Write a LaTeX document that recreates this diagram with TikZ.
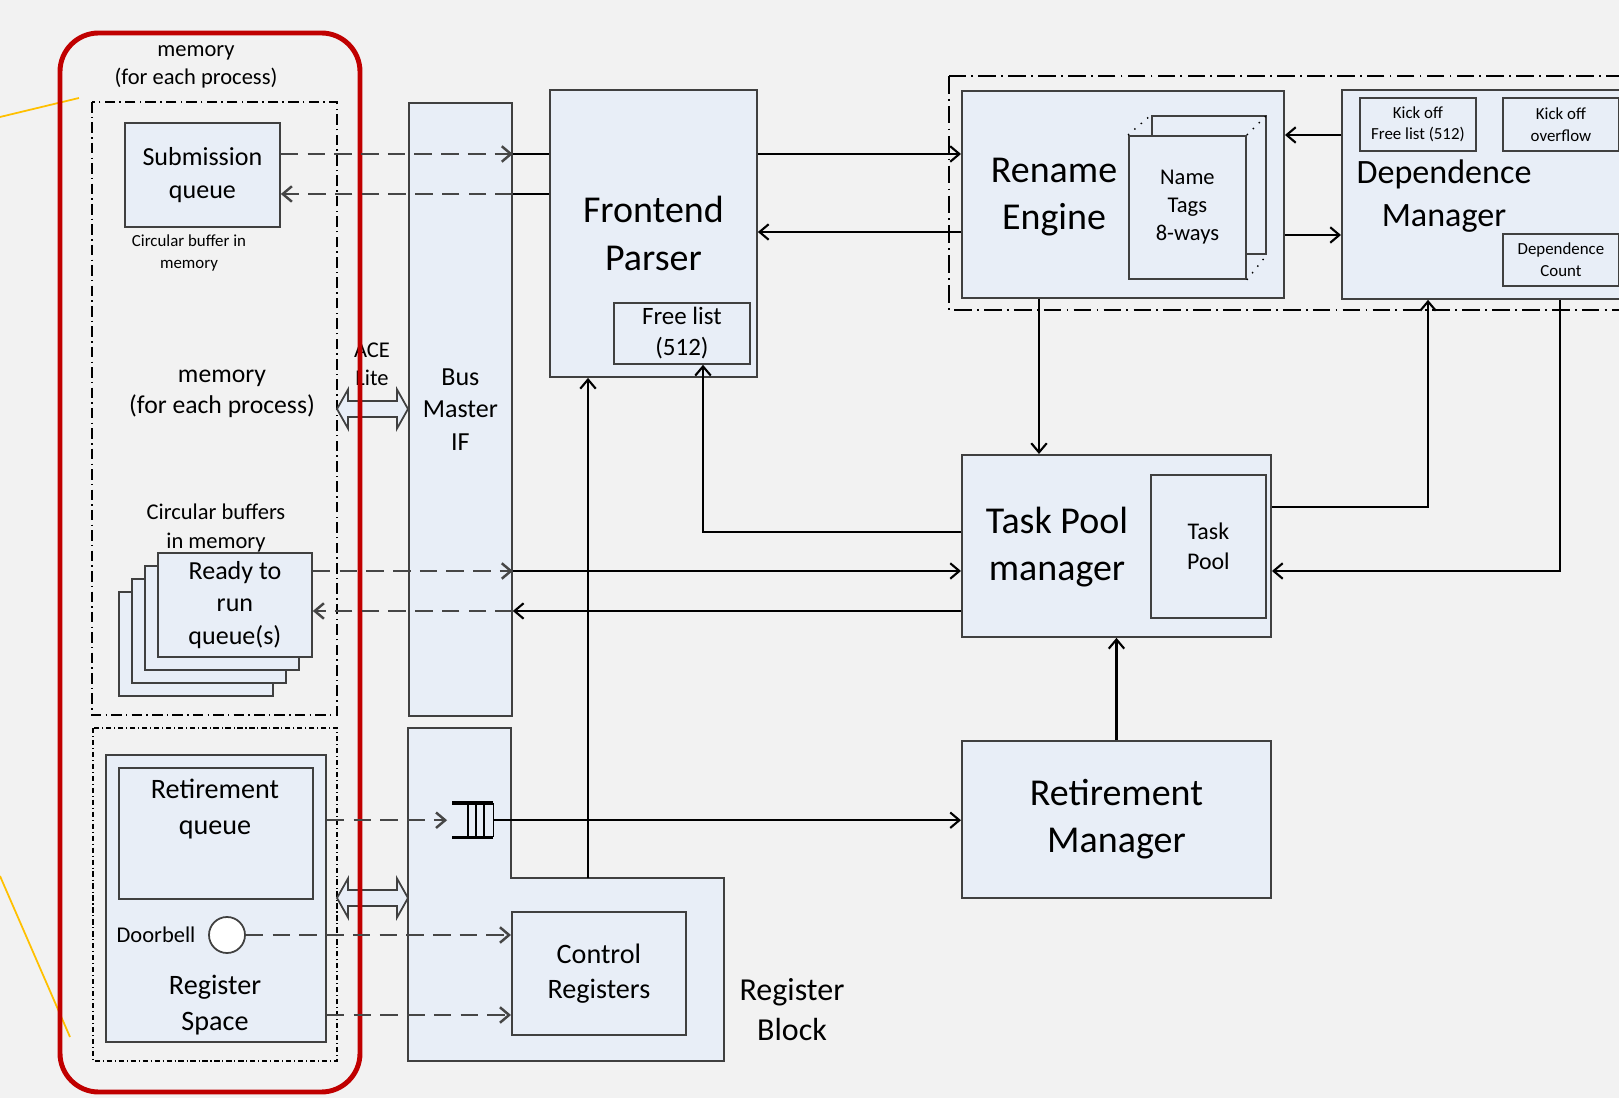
\documentclass[tikz,border=0pt]{standalone}
\usepackage{fontspec}
\setmainfont{Carlito}
\usetikzlibrary{arrows.meta,positioning}
\definecolor{boxblue}{RGB}{232,238,247}
\definecolor{bggray}{RGB}{242,242,242}
\definecolor{memred}{RGB}{192,0,0}
\definecolor{linkgold}{RGB}{255,192,0}
\definecolor{dashgray}{RGB}{70,70,70}
\newcommand{\fsz}[2]{\fontsize{#1}{#2}\selectfont}

\begin{document}
\begin{tikzpicture}
[x=0.01cm,y=-0.01cm,
 blk/.style={draw=black!75,fill=boxblue,line width=0.5pt,inner sep=0pt,anchor=north west,align=center},
 lbl/.style={inner sep=0pt,align=center},
 f38/.style={font=\fsz{10.8}{13.4}},
 f34/.style={font=\fsz{9.7}{12}},
 f32/.style={font=\fsz{9.1}{11.4}},
 f28/.style={font=\fsz{8}{10}},
 f26/.style={font=\fsz{7.4}{9.2}},
 f25/.style={font=\fsz{7.1}{8.8}},
 f24/.style={font=\fsz{6.8}{8.5}},
 f22/.style={font=\fsz{6.4}{8}},
 f17/.style={font=\fsz{4.8}{6.2}},
 conn/.style={line width=0.6pt,-{Straight Barb[length=2.6pt,width=4.4pt]}},
 link/.style={line width=0.6pt},
 dasharr/.style={draw=dashgray,line width=0.7pt,dash pattern=on 5pt off 2.6pt,-{Straight Barb[length=2.6pt,width=4.4pt]}},
 grpbox/.style={line width=0.4pt,dash pattern=on 3pt off 1.2pt on 0.4pt off 1.2pt},
 hollow/.style={draw=black!75,fill=boxblue,line width=0.5pt}]
   \useasboundingbox (0,0) rectangle (1619,1098);
   \fill[bggray] (0,0) rectangle (1619,1098);
   \clip (0,0) rectangle (1619,1098);

   % memory side
   \draw[linkgold,line width=0.5pt] (0,117) -- (79,98);
   \draw[linkgold,line width=0.5pt] (0,876) -- (70,1037);
   \draw[grpbox] (92,102) rectangle (337,715);
   \draw[grpbox,dash pattern=on 1.5pt off 0.8pt on 0.3pt off 0.8pt] (93,728) rectangle (337,1061);
   \node[lbl,f22] (memtop) at (196,67) {memory\\(for each process)};
   \node[blk,f26,minimum width=1.55cm,minimum height=1.04cm] (subq) at (124,122) {Submission\\queue};
   \node[lbl,f17] (subcap) at (189,253) {Circular buffer in\\memory};
   \node[lbl,f26,font=\fsz{7.3}{8.9}] (memmid) at (222,394) {memory\\(for each process)};
   \node[lbl,f22] (bufcap) at (216,528) {Circular buffers\\in memory};
   \node[blk,minimum width=1.54cm,minimum height=1.04cm] (rdy3) at (118,591) {};
   \node[blk,minimum width=1.54cm,minimum height=1.04cm] (rdy2) at (131,578) {};
   \node[blk,minimum width=1.54cm,minimum height=1.04cm] (rdy1) at (144,565) {};
   \node[blk,f26,minimum width=1.54cm,minimum height=1.04cm] (rdy) at (157,552) {Ready to\\run\\queue(s)};

   \node[blk,minimum width=2.2cm,minimum height=2.87cm] (rs) at (105,754) {};
   \node[blk,minimum width=1.94cm,minimum height=1.31cm] (rq) at (118,767) {};
   \node[lbl,f28] (rqtxt) at (215,809) {Retirement\\queue};
   \node[draw=black!75,fill=white,circle,minimum size=0.36cm,inner sep=0pt,line width=0.5pt] (bell) at (227,935) {};
   \node[lbl,f22,left=0.12cm of bell] (belltxt) {Doorbell};
   \node[lbl,f28] (rstxt) at (215,1005) {Register\\Space};

   % bus and interface arrows
   \node[blk,f26,minimum width=1.03cm,minimum height=6.13cm] (bus) at (408,102) {Bus\\Master\\IF};
   \node[lbl,f22] (ace) at (372,364) {ACE\\Lite};
   \draw[hollow] (337,409) -- ++(11,-19.5) -- ++(0,11.5) -- ++(49,0) -- ++(0,-11.5) -- ++(11,19.5)
      -- ++(-11,19.5) -- ++(0,-11.5) -- ++(-49,0) -- ++(0,11.5) -- cycle;
   \draw[hollow] (337,898) -- ++(11,-19.5) -- ++(0,11.5) -- ++(49,0) -- ++(0,-11.5) -- ++(11,19.5)
      -- ++(-11,19.5) -- ++(0,-11.5) -- ++(-49,0) -- ++(0,11.5) -- cycle;

   \draw[memred,line width=1.4pt,rounded corners=11pt] (60,33) rectangle (360,1092);

   % register block
   \draw[hollow] (408,728) -- (511,728) -- (511,878) -- (724,878) -- (724,1061) -- (408,1061) -- cycle;
   \coordinate (rbtop) at (588,878);
   \node[lbl,f32] (rbtxt) at (792,1010) {Register\\Block};
   \node[blk,f28,minimum width=1.74cm,minimum height=1.23cm] (ctl) at (511,911) {Control\\Registers};
   \node[minimum width=0.4cm,minimum height=0.33cm,inner sep=0pt,anchor=north west] (qsym) at (452,803) {};
   \draw[line width=1pt] (qsym.north west) -- (qsym.north east) (qsym.south west) -- (qsym.south east);
   \draw[line width=0.5pt] (qsym.north east) -- (qsym.south east);
   \foreach \x in {16,24,32}
      \draw[line width=0.4pt] (qsym.north west) ++(\x,0) -- ++(0,33);

   % engine side
   \node[blk,f38,minimum width=2.07cm,minimum height=2.87cm] (fp) at (549,89) {Frontend\\Parser};
   \node[blk,f25,minimum width=1.36cm,minimum height=0.61cm] (fl) at (613,302) {Free list\\(512)};

   \draw[grpbox,dash pattern=on 5pt off 1.5pt on 0.5pt off 1.5pt] (949,76) rectangle (1680,310);
   \node[blk,minimum width=3.22cm,minimum height=2.07cm] (ren) at (961,90) {};
   \node[lbl,f38] (rentxt) at (1054,197) {Rename\\Engine};
   \node[blk,minimum width=1.14cm,minimum height=1.38cm] (ntb) at (1151,115) {};
   \node[blk,f22,minimum width=1.17cm,minimum height=1.43cm] (nt) at (1128,135) {Name\\Tags\\8-ways};
   \draw[dotted,line width=0.4pt] (nt.north west) -- (ntb.north west)
      (nt.north east) -- (ntb.north east) (nt.south east) -- (ntb.south east);

   \node[blk,minimum width=3.2cm,minimum height=2.09cm] (dep) at (1341,89) {};
   \node[lbl,f34] (deptxt) at (1444,196) {Dependence\\Manager};
   \node[blk,f17,minimum width=1.16cm,minimum height=0.53cm] (kick1) at (1359,97) {Kick off\\Free list (512)};
   \node[blk,f17,minimum width=1.16cm,minimum height=0.53cm] (kick2) at (1502,97) {Kick off\\overflow};
   \node[blk,f17,minimum width=1.16cm,minimum height=0.52cm] (dcnt) at (1502,233) {Dependence\\Count};

   \node[blk,minimum width=3.09cm,minimum height=1.82cm] (tpm) at (961,454) {};
   \node[lbl,f38] (tpmtxt) at (1057,547) {Task Pool\\manager};
   \node[blk,f24,minimum width=1.15cm,minimum height=1.43cm] (tp) at (1150,474) {Task\\Pool};
   \node[blk,f38,minimum width=3.09cm,minimum height=1.57cm] (rm) at (961,740) {Retirement\\Manager};

   % connectors
   \draw[dasharr] (subq.east |- 0,154) -- (bus.east |- 0,154);
   \draw[link] (bus.east |- 0,154) -- (fp.west |- 0,154);
   \draw[link] (fp.west |- 0,194) -- (bus.east |- 0,194);
   \draw[dasharr] (bus.east |- 0,194) -- (subq.east |- 0,194);
   \draw[dasharr] (rdy.east |- 0,571) -- (bus.east |- 0,571);
   \draw[conn] (bus.east |- 0,571) -- (tpm.west |- 0,571);
   \draw[conn] (tpm.west |- 0,611) -- (bus.east |- 0,611);
   \draw[dasharr] (bus.east |- 0,611) -- (rdy.east |- 0,611);

   \draw[conn] (fp.east |- 0,154) -- (ren.west |- 0,154);
   \draw[conn] (ren.west |- 0,232) -- (fp.east |- 0,232);
   \draw[conn] (dep.west |- 0,135) -- (ren.east |- 0,135);
   \draw[conn] (ren.east |- 0,235) -- (dep.west |- 0,235);
   \draw[conn] (1039,0 |- ren.south) -- (1039,0 |- tpm.north);
   \draw[conn] (tpm.east |- 0,507) -| (1428,0 |- dep.south);
   \draw[conn] (1560,0 |- dep.south) |- (tpm.east |- 0,571);
   \draw[conn] (tpm.west |- 0,532) -| (703,0 |- fl.south);
   \draw[conn] (rm.north) -- (tpm.south);
   \draw[conn] (qsym.east) -- (rm.west |- qsym.east);
   \draw[conn] (rbtop) -- (fp.south -| rbtop);

   \draw[dasharr,shorten >=1.4pt] (rs.east |- qsym.west) -- (qsym.west);
   \draw[dasharr] (bell.east) -- (ctl.west |- bell.east);
   \draw[dasharr] (rs.east |- 0,1015) -- (ctl.west |- 0,1015);

\end{tikzpicture}
\end{document}
